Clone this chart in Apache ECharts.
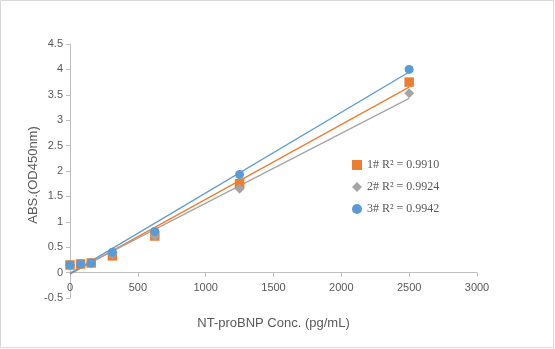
<!DOCTYPE html>
<html><head><meta charset="utf-8">
<script src="https://cdn.jsdelivr.net/npm/echarts@6/dist/echarts.min.js"></script>
<style>html,body{margin:0;padding:0;background:#fff}#c{width:555px;height:349px}</style>
</head><body><div id="c"></div>
<script>
const concentrations = [0, 78.125, 156.25, 312.5, 625, 1250, 2500];
const series1 = [0.15, 0.17, 0.19, 0.33, 0.72, 1.75, 3.75];
const series2 = [0.15, 0.17, 0.19, 0.36, 0.72, 1.65, 3.53];
const series3 = [0.15, 0.17, 0.19, 0.40, 0.81, 1.93, 4.00];
const seriesNames = ['1# R² = 0.9910', '2# R² = 0.9924', '3# R² = 0.9942'];
// trendline endpoints: [x, y]
const trendX = [0, 2500];
const trend1 = [-0.03, 3.65];
const trend2 = [-0.01, 3.43];
const trend3 = [-0.02, 3.95];
const xTicks = [0, 500, 1000, 1500, 2000, 2500, 3000];
const yTicks = [-0.5, 0, 0.5, 1, 1.5, 2, 2.5, 3, 3.5, 4, 4.5];

const colors = ['#ED7D31', '#A5A5A5', '#5B9BD5'];
const symbols = ['rect', 'diamond', 'circle'];
const sizes = [9.5, 10, 9];
const pts = [series1, series2, series3];
const trends = [trend1, trend2, trend3];

const series = [];
trends.forEach((t, i) => {
  series.push({
    type: 'line', data: trendX.map((x, k) => [x, t[k]]),
    showSymbol: false, symbol: 'none', silent: true,
    lineStyle: { color: colors[i], width: 1.3 }, z: 2
  });
});
pts.forEach((p, i) => {
  series.push({
    name: seriesNames[i], type: 'scatter',
    data: concentrations.map((x, k) => [x, p[k]]),
    symbol: symbols[i], symbolSize: sizes[i],
    itemStyle: { color: colors[i], opacity: 1 }, z: 3 + i
  });
});

const gridTop = 44, gridBottom = 51, H = 349;
const plotH = H - gridTop - gridBottom;
const yMin = yTicks[0], yMax = yTicks[yTicks.length - 1];
// x axis sits at y = 0, shifted up from the bottom of the grid
const zeroOffset = -plotH * (0 - yMin) / (yMax - yMin);

const chart = echarts.init(document.getElementById('c'));
chart.setOption({
  animation: false,
  backgroundColor: '#fff',
  graphic: [{ type: 'rect', shape: { x: 0.5, y: 0.5, width: 553, height: 347 },
    style: { fill: 'none', stroke: '#d9d9d9', lineWidth: 1 }, silent: true }],
  grid: { left: 70, right: 78, top: gridTop, bottom: gridBottom, containLabel: false, outerBoundsMode: 'none' },
  legend: {
    data: seriesNames, orient: 'vertical', left: 347, top: 154, itemGap: 10,
    itemWidth: 10, itemHeight: 10,
    textStyle: { fontFamily: 'Liberation Serif', fontSize: 12, color: '#595959', height: 12 }
  },
  xAxis: {
    type: 'value', min: xTicks[0], max: xTicks[xTicks.length - 1], interval: 500,
    position: 'bottom', offset: zeroOffset, nameMoveOverlap: false,
    name: 'NT-proBNP Conc. (pg/mL)', nameLocation: 'middle', nameGap: 44,
    nameTextStyle: { fontFamily: 'Liberation Sans', fontSize: 13, color: '#595959' },
    axisLine: { onZero: false, lineStyle: { color: '#bfbfbf' } },
    axisTick: { show: true, length: 4, lineStyle: { color: '#bfbfbf' } },
    axisLabel: { fontFamily: 'Liberation Sans', fontSize: 11, color: '#595959', margin: 10, formatter: v => String(v) },
    splitLine: { show: false }
  },
  yAxis: {
    type: 'value', min: yMin, max: yMax, interval: 0.5, nameMoveOverlap: false,
    name: 'ABS.(OD450nm)', nameLocation: 'middle', nameGap: 30, nameRotate: 90,
    nameTextStyle: { fontFamily: 'Liberation Sans', fontSize: 13, color: '#595959', padding: [0, 0, 0, -8] },
    axisLine: { show: true, onZero: false, lineStyle: { color: '#bfbfbf' } },
    axisTick: { show: true, length: 4, lineStyle: { color: '#bfbfbf' } },
    axisLabel: { fontFamily: 'Liberation Sans', fontSize: 11, color: '#595959', margin: 7, formatter: v => String(v) },
    splitLine: { show: false }
  },
  series: series
});
</script></body></html>
